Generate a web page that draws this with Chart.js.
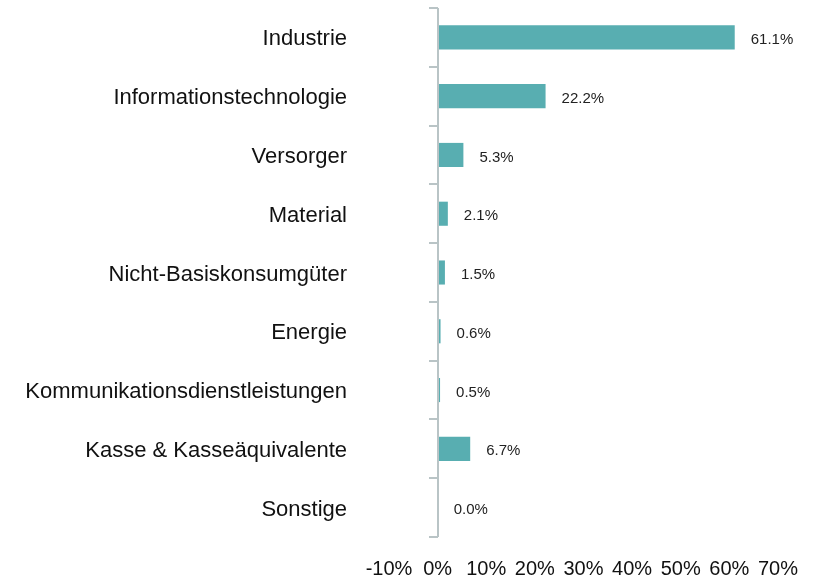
<!DOCTYPE html>
<html>
<head>
<meta charset="utf-8">
<script src="https://cdn.jsdelivr.net/npm/chart.js@4"></script>
<style>
  html, body { margin: 0; padding: 0; background: #fff; }
  #wrap { width: 815px; height: 578px; }
</style>
</head>
<body>
<div id="wrap"><canvas id="SectorCanvas" width="815" height="578"></canvas></div>
<script>
const sectors = [
    "Industrie",
    "Informationstechnologie",
    "Versorger",
    "Material",
    "Nicht-Basiskonsumgüter",
    "Energie",
    "Kommunikationsdienstleistungen",
    "Kasse & Kasseäquivalente",
    "Sonstige"
];
const weights = [61.1, 22.2, 5.3, 2.1, 1.5, 0.6, 0.5, 6.7, 0.0];
const xTicks = [-10, 0, 10, 20, 30, 40, 50, 60, 70];

const fontName = "'Liberation Sans', Arial, sans-serif";
const axisColor = "#b9c4c6";

// axis line at 0% with little tick marks between categories
const zeroAxisPlugin = {
    id: "zeroAxis",
    afterDatasetsDraw(chart) {
        const ctx = chart.ctx;
        const x0 = Math.round(chart.scales.x.getPixelForValue(0));
        const top = chart.chartArea.top;
        const bottom = chart.chartArea.bottom;
        const step = (bottom - top) / sectors.length;
        ctx.save();
        ctx.strokeStyle = axisColor;
        ctx.lineWidth = 2;
        ctx.beginPath();
        ctx.moveTo(x0, top);
        ctx.lineTo(x0, bottom);
        for (let i = 0; i <= sectors.length; i++) {
            const y = Math.round(top + i * step);
            ctx.moveTo(x0 - 9, y);
            ctx.lineTo(x0, y);
        }
        ctx.stroke();
        ctx.restore();
    }
};

// value labels to the right of each bar
const valueLabelPlugin = {
    id: "valueLabels",
    afterDatasetsDraw(chart) {
        const ctx = chart.ctx;
        const meta = chart.getDatasetMeta(0);
        ctx.save();
        ctx.font = "15px " + fontName;
        ctx.fillStyle = "#222";
        ctx.textAlign = "left";
        ctx.textBaseline = "middle";
        meta.data.forEach((bar, i) => {
            ctx.fillText(weights[i].toFixed(1) + "%", bar.x + 16, bar.y + 2.5);
        });
        ctx.restore();
    }
};

new Chart(document.getElementById("SectorCanvas").getContext("2d"), {
    type: "bar",
    data: {
        labels: sectors,
        datasets: [{
            data: weights,
            backgroundColor: "#58aeb1",
            barPercentage: 0.41,
            categoryPercentage: 1
        }]
    },
    options: {
        indexAxis: "y",
        animation: false,
        responsive: false,
        layout: { padding: { top: 8, right: 37, left: 0, bottom: 0 } },
        plugins: {
            legend: { display: false },
            tooltip: { enabled: false }
        },
        scales: {
            x: {
                min: -10,
                max: 70,
                afterBuildTicks: axis => { axis.ticks = xTicks.map(v => ({ value: v })); },
                afterFit: axis => {
                    axis.height = 41;
                    axis.paddingLeft = 0;
                    axis.paddingRight = 0;
                },
                grid: { display: false, drawTicks: false },
                border: { display: false },
                ticks: {
                    padding: 20,
                    maxRotation: 0,
                    minRotation: 0,
                    autoSkip: false,
                    color: "#111",
                    font: { size: 20, family: fontName },
                    callback: v => v + "%"
                }
            },
            y: {
                afterFit: axis => {
                    axis.width = 389;
                    axis.paddingTop = 0;
                    axis.paddingBottom = 0;
                },
                grid: { display: false, drawTicks: false },
                border: { display: false },
                ticks: {
                    padding: 42,
                    labelOffset: 2,
                    color: "#111",
                    font: { size: 22, family: fontName }
                }
            }
        }
    },
    plugins: [zeroAxisPlugin, valueLabelPlugin]
});
</script>
</body>
</html>
